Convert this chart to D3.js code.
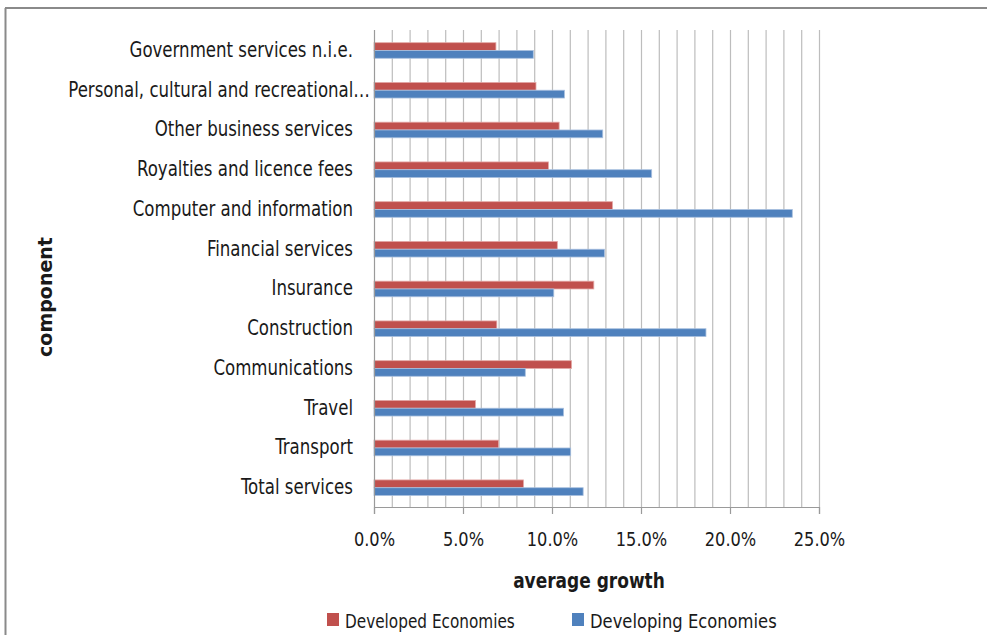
<!DOCTYPE html>
<html>
<head>
<meta charset="utf-8">
<script src="https://cdn.jsdelivr.net/npm/d3@7"></script>
<style>
  body { margin: 0; background: #fff; }
  svg text { font-family: "DejaVu Sans Condensed", "Liberation Sans Narrow", sans-serif; fill: #1a1a1a; }
</style>
</head>
<body>
<svg id="chart" width="987" height="635"></svg>
<script>
// data, top to bottom as shown
const categories = [
  "Government services n.i.e.",
  "Personal, cultural and recreational\u2026",
  "Other business services",
  "Royalties and licence fees",
  "Computer and information",
  "Financial services",
  "Insurance",
  "Construction",
  "Communications",
  "Travel",
  "Transport",
  "Total services"
];
const developed  = [6.85, 9.1, 10.4, 9.8, 13.4, 10.3, 12.35, 6.9, 11.1, 5.7, 7.0, 8.4];
const developing = [8.95, 10.7, 12.85, 15.6, 23.5, 12.95, 10.1, 18.65, 8.5, 10.65, 11.05, 11.75];
const seriesNames = ["Developed Economies", "Developing Economies"];
const seriesColors = ["#C0504D", "#4F81BD"];
const majorTicks = [0, 5, 10, 15, 20, 25];

const svg = d3.select("#chart");

// outer frame
svg.append("line").attr("x1", 5).attr("x2", 987).attr("y1", 8).attr("y2", 8)
  .style("stroke", "#8a8a8a").style("stroke-width", 2);
svg.append("line").attr("x1", 5.5).attr("x2", 5.5).attr("y1", 8).attr("y2", 635)
  .style("stroke", "#8a8a8a").style("stroke-width", 2);

const plotL = 374, plotR = 819, plotT = 30, plotB = 507;

const x = d3.scaleLinear().domain([0, 25]).range([plotL, plotR]);
const y = d3.scaleBand().domain(categories).range([plotT, plotB]);
const inner = d3.scaleBand().domain([0, 1]).range([0, 15.6]);

// minor gridlines every 1%
svg.append("g")
  .selectAll("line")
  .data(d3.range(1, 26))
  .join("line")
  .attr("x1", d => x(d) + 0.5)
  .attr("x2", d => x(d) + 0.5)
  .attr("y1", plotT)
  .attr("y2", plotB)
  .style("stroke", "#bdbdbd")
  .style("stroke-width", 1.2);

// bars
const grp = svg.append("g")
  .selectAll("g")
  .data(categories)
  .join("g")
  .attr("transform", d => `translate(0, ${y(d) + y.bandwidth() / 2 - 7.2})`);

[developed, developing].forEach((vals, s) => {
  grp.append("rect")
    .attr("x", x(0))
    .attr("y", inner(s))
    .attr("width", (d, i) => x(vals[i]) - x(0))
    .attr("height", inner.bandwidth())
    .style("fill", seriesColors[s])
    .style("stroke", s === 0 ? "#e3a9a7" : "#a9c0df")
    .style("stroke-width", 0.8);
});

// axes lines
svg.append("line").attr("x1", plotL + 0.5).attr("x2", plotL + 0.5).attr("y1", plotT).attr("y2", plotB)
  .style("stroke", "#9a9a9a").style("stroke-width", 1.2);

const xAxis = svg.append("g")
  .attr("transform", `translate(0, ${plotB})`)
  .call(d3.axisBottom(x).tickValues(majorTicks).tickSize(7).tickPadding(18)
    .tickFormat(d => d.toFixed(1) + "%"));
xAxis.select(".domain").style("stroke", "#9a9a9a").style("stroke-width", 1.2);
xAxis.selectAll(".tick line").style("stroke", "#9a9a9a").style("stroke-width", 1.2);
xAxis.selectAll(".tick text")
  .attr("transform", "scale(0.9,1)")
  .style("font-size", "20px")
  .style("font-family", "'DejaVu Sans Condensed', sans-serif")
  .style("fill", "#1a1a1a");

// category labels (narrowed to mimic Calibri)
svg.append("g")
  .selectAll("text")
  .data(categories)
  .join("text")
  .attr("transform", d => {
    let ex = d.endsWith("\u2026") ? 370 : 353;
    return `translate(${ex}, ${y(d) + y.bandwidth() / 2 + 7}) scale(0.88,1)`;
  })
  .attr("text-anchor", "end")
  .style("font-size", "21px")
  .text(d => d);

// axis titles
svg.append("text")
  .attr("transform", "translate(589, 588) scale(0.9,1)")
  .attr("text-anchor", "middle")
  .style("font-size", "21px")
  .style("font-weight", "bold")
  .text("average growth");

svg.append("text")
  .attr("transform", "translate(52, 297) rotate(-90)")
  .attr("text-anchor", "middle")
  .style("font-family", "'DejaVu Sans', sans-serif")
  .style("font-size", "19px")
  .style("font-weight", "bold")
  .text("component");

// legend
const legendX = [327, 572];
const legend = svg.append("g")
  .selectAll("g")
  .data(seriesNames)
  .join("g")
  .attr("transform", (d, i) => `translate(${legendX[i]}, 613)`);
legend.append("rect")
  .attr("width", 12).attr("height", 13)
  .style("fill", (d, i) => seriesColors[i]);
legend.append("text")
  .attr("transform", (d, i) => `translate(18, 15) scale(${i === 0 ? 0.85 : 0.91},1)`)
  .style("font-size", "20px")
  .text(d => d);
</script>
</body>
</html>
